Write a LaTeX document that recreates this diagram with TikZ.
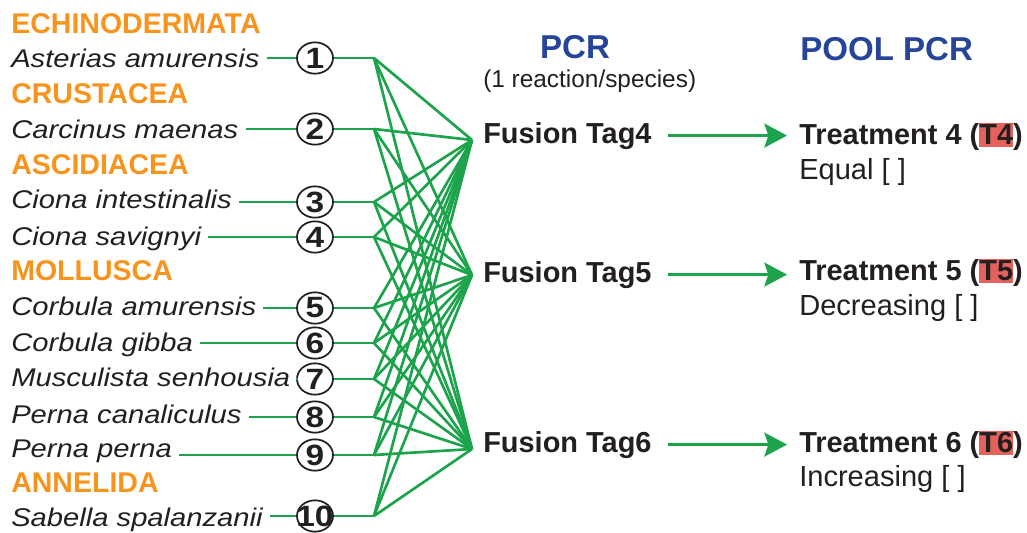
\documentclass[tikz,border=0pt]{standalone}
\usepackage{fontspec}
\setmainfont{Liberation Sans}
\newfontfamily\widesf[FakeStretch=1.14]{Liberation Sans}
\usetikzlibrary{arrows.meta,calc,shapes.geometric}

\definecolor{phylum}{RGB}{247,148,30}
\definecolor{pcrblue}{RGB}{38,68,152}
\definecolor{tagreen}{RGB}{28,163,76}
\definecolor{tagred}{RGB}{229,98,92}
\definecolor{ink}{RGB}{35,31,32}

\newcommand{\tmark}[1]{{\setlength{\fboxsep}{0pt}\colorbox{tagred}{\rule[-2.4pt]{0pt}{18.5pt}#1}}}

\begin{document}
\begin{tikzpicture}[x=0.75pt, y=-0.75pt,
    group/.style={text=phylum, font=\bfseries\fontsize{21.4}{25}\selectfont, inner sep=0},
    species/.style={text=ink, font=\widesf\itshape\fontsize{19.2}{23}\selectfont, inner sep=0},
    num/.style={ellipse, draw=ink, line width=1.3pt, fill=white, minimum width=27pt,
        minimum height=23.5pt, inner sep=0, text=ink, font=\widesf\bfseries\fontsize{22}{22}\selectfont},
    link/.style={draw=tagreen, line width=2pt},
    head/.style={text=pcrblue, font=\bfseries\fontsize{24.8}{28}\selectfont, inner sep=0},
    note/.style={text=ink, font=\fontsize{18.3}{22}\selectfont, inner sep=0},
    tag/.style={text=ink, font=\bfseries\fontsize{21.7}{25}\selectfont, inner sep=0},
    conc/.style={text=ink, font=\fontsize{21.8}{25}\selectfont, inner sep=0},
    pool/.style={link, -{Stealth[length=17pt,width=18pt,inset=3pt]}, shorten <=12pt, shorten >=9pt}]
    \useasboundingbox (0,0) rectangle (1027,532);

    % Phyla
    \node[group, anchor=base west] (echi) at (11,33) {ECHINODERMATA};
    \node[group, anchor=base west] (crus) at (11,103) {CRUSTACEA};
    \node[group, anchor=base west] (asci) at (11,174) {ASCIDIACEA};
    \node[group, anchor=base west] (moll) at (11,280) {MOLLUSCA};
    \node[group, anchor=base west] (anne) at (11,492) {ANNELIDA};

    % Fusion points
    \coordinate (f4) at (472,140);
    \coordinate (f5) at (472,275);
    \coordinate (f6) at (472,449);

    % Species, numbers and links
    \foreach \i/\spname/\yb/\yc in {1/Asterias amurensis/67/58, 2/Carcinus maenas/138/129,
        3/Ciona intestinalis/208/202, 4/Ciona savignyi/245/237, 5/Corbula amurensis/315/308,
        6/Corbula gibba/351/343, 7/Musculista senhousia/386/379, 8/Perna canaliculus/423/417,
        9/Perna perna/457/455, 10/Sabella spalanzanii/526/516} {
        \node[species, anchor=base west] (sp\i) at (11,\yb) {\spname};
        \node[num] (n\i) at (315,\yc) {\makebox[0pt]{\i}};
        \coordinate (j\i) at (374,\yc);
        \draw[link] ($(sp\i.east |- n\i)+(7,0)$) -- (n\i);
        \draw[link] (n\i) -- (j\i);
        \foreach \t in {4,5,6} \draw[link] (j\i) -- (f\t);
    }

    % Headers
    \node[head, anchor=base] (pcr) at (575,58) {PCR};
    \node[note, anchor=base west] (react) at (483,87) {(1 reaction/species)};
    \node[head, anchor=base west] (poolpcr) at (800,60) {POOL PCR};

    % Fusion tags
    \node[tag, anchor=base west] (tag4) at (483,143) {Fusion Tag4};
    \node[tag, anchor=base west] (tag5) at (483,282) {Fusion Tag5};
    \node[tag, anchor=base west] (tag6) at (483,452) {Fusion Tag6};

    % Treatments
    \node[tag, anchor=base west] (tr4) at (799,144) {Treatment 4 (\tmark{T4})};
    \node[conc, anchor=base west] (eq4) at (799,179) {Equal [ ]};
    \node[tag, anchor=base west] (tr5) at (799,280) {Treatment 5 (\tmark{T5})};
    \node[conc, anchor=base west] (dec5) at (799,315) {Decreasing [ ]};
    \node[tag, anchor=base west] (tr6) at (799,452) {Treatment 6 (\tmark{T6})};
    \node[conc, anchor=base west] (inc6) at (799,486) {Increasing [ ]};

    % Pooling arrows
    \draw[pool] (tag4.east) -- (tag4.east -| tr4.west);
    \draw[pool] (tag5.east) -- (tag5.east -| tr5.west);
    \draw[pool] (tag6.east) -- (tag6.east -| tr6.west);
\end{tikzpicture}
\end{document}
